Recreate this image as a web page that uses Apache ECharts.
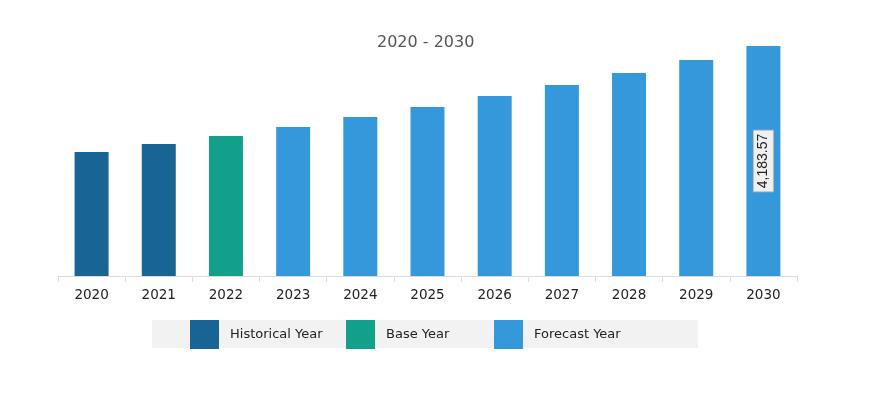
<!DOCTYPE html>
<html><head><meta charset="utf-8">
<script src="https://cdn.jsdelivr.net/npm/echarts@6/dist/echarts.min.js"></script>
<style>html,body{margin:0;padding:0;background:#fff}#c{width:869px;height:415px}</style>
</head><body><div id="c"></div>
<script>
var categories = ['2020','2021','2022','2023','2024','2025','2026','2027','2028','2029','2030'];
var historical = [2255, 2401, null, null, null, null, null, null, null, null, null];
var baseYear = [null, null, 2547, null, null, null, null, null, null, null, null];
var forecast = [null, null, null, 2710, 2892, 3074, 3274, 3474, 3692, 3929, 4183.57];
var seriesNames = ['Historical Year', 'Base Year', 'Forecast Year'];
var colors = ['#186595', '#13a08b', '#3498db'];
var titleText = '2020 - 2030';
var labelIndex = 10;

var font = 'DejaVu Sans, sans-serif';
var chart = echarts.init(document.getElementById('c'));
function lg(i, left) {
  return {
    data: [seriesNames[i]], left: left, top: 320, padding: 0,
    itemWidth: 29, itemHeight: 29, icon: 'rect', selectedMode: false,
    textStyle: {fontFamily: font, fontSize: 13, color: '#222', padding: [0, 0, 0, 6]}
  };
}
function bar(i, data) {
  return {
    name: seriesNames[i], type: 'bar', stack: 'a', barWidth: 34,
    data: data.map(function (v, k) {
      if (i === 2 && k === labelIndex) {
        return {
          value: v,
          label: {
            show: true, position: 'inside', rotate: 90,
            formatter: function (p) { return p.value.toLocaleString('en-US', {minimumFractionDigits: 2}); },
            fontFamily: 'Liberation Sans, Arial, sans-serif', fontSize: 14, color: '#222',
            backgroundColor: '#f0f0f0', borderColor: '#bbb', borderWidth: 1, padding: [3, 3, 2, 3]
          }
        };
      }
      return v;
    }),
    itemStyle: {color: colors[i]},
    label: {show: false}
  };
}
chart.setOption({
  animation: false,
  title: {text: titleText, left: 372, top: 30, textStyle: {fontFamily: font, fontSize: 16, fontWeight: 'normal', color: '#555'}},
  grid: {left: 58, right: 72, top: 46, bottom: 139},
  graphic: [{type: 'rect', shape: {x: 152, y: 320, width: 546, height: 28}, style: {fill: '#f2f2f2'}, z: -10}],
  legend: [lg(0, 190), lg(1, 346), lg(2, 494)],
  xAxis: {
    type: 'category', data: categories,
    axisLine: {lineStyle: {color: '#dcdcdc'}},
    axisTick: {show: true, length: 6, lineStyle: {color: '#dcdcdc'}},
    axisLabel: {fontFamily: font, fontSize: 13.5, color: '#222', margin: 12}
  },
  yAxis: {type: 'value', min: 0, max: 4183.57, show: false, splitLine: {show: false}},
  series: [bar(0, historical), bar(1, baseYear), bar(2, forecast)]
});
</script></body></html>
